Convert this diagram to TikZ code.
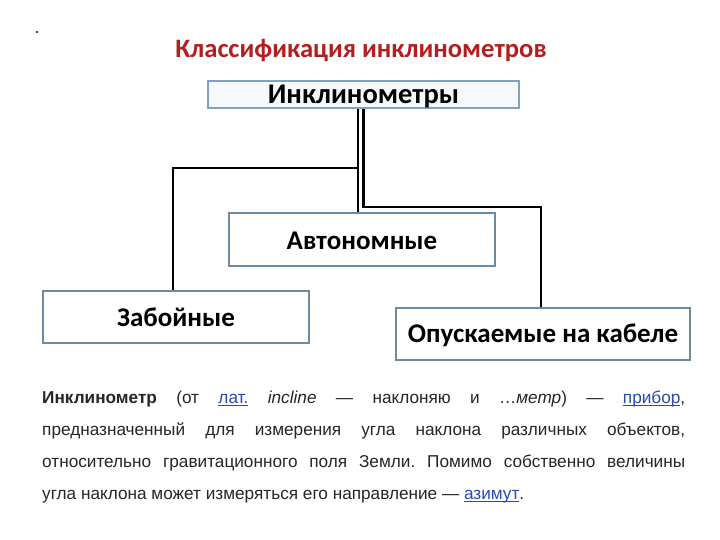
\documentclass[tikz,border=0pt]{standalone}
\usepackage{fontspec}
\setmainfont{Liberation Sans}
\newfontfamily\boxfont{Carlito}
\usetikzlibrary{calc}
\definecolor{titlered}{HTML}{B41E1E}
\definecolor{boxedge}{HTML}{6E8AA2}
\definecolor{topedge}{HTML}{7FA2C4}
\definecolor{topfill}{HTML}{F5F9FC}
\definecolor{linkblue}{HTML}{2A4AB0}
\definecolor{bodytext}{HTML}{262626}
\newcommand\lnkword[1]{\textcolor{linkblue}{\setbox0\hbox{#1}\rlap{\rule[-2.4pt]{\wd0}{0.8pt}}\box0}}
\tikzset{
  catbox/.style={draw=boxedge, line width=1.6pt, fill=white, inner sep=0pt,
    font=\boxfont\bfseries\fontsize{27}{30}\selectfont, text=black},
  conn/.style={draw=black, line width=2.6pt},
}
\begin{document}
\begin{tikzpicture}[x=1pt,y=-1pt]
\useasboundingbox (0,0) rectangle (720,540);
\fill[white] (0,0) rectangle (720,540);
\fill[black!70] (36.3,30.8) rectangle (37.9,32.6);
\node[font=\boxfont\bfseries\fontsize{26.6}{28}\selectfont, text=titlered] (title) at (361,51) {Классификация инклинометров};
\node[draw=topedge, line width=1.4pt, fill=topfill, minimum width=311pt, minimum height=27pt, inner sep=0pt,
  text height=20pt, text depth=2pt,
  font=\boxfont\bfseries\fontsize{28.5}{30}\selectfont] (top) at (363.5,94.5) {Инклинометры};
\node[catbox, minimum width=266pt, minimum height=53pt, text height=21pt, text depth=2pt] (auto) at (362,239.5) {Автономные};
\node[catbox, minimum width=266pt, minimum height=52pt, text height=21pt, text depth=2pt] (zab) at (176,317) {Забойные};
\node[catbox, minimum width=294pt, minimum height=52pt, text height=20pt, text depth=3pt] (cab) at (543,334) {Опускаемые на кабеле};
\coordinate (jl) at (358,168);
\coordinate (cl) at (173,168);
\coordinate (jr) at (363.5,207);
\coordinate (cr) at (541,207);
\draw[conn] (top.south -| jl) -- (auto.north -| jl);
\draw[conn] (jl) -- (cl) -- (zab.north -| cl);
\draw[conn] (top.south -| jr) -- (jr) -- (cr) -- (cab.north -| cr);
\node[anchor=north west, text width=643pt, align=justify, inner sep=0pt, text=bodytext,
  font=\fontsize{17.2}{32}\selectfont\frenchspacing] (para) at (42,390.5)
{\textbf{Инклинометр} (от \lnkword{лат.} \textit{incline} — наклоняю и …\textit{метр}) — \lnkword{прибор},\linebreak
предназначенный для измерения угла наклона различных объектов,\linebreak
относительно гравитационного поля Земли. Помимо собственно величины\linebreak
угла наклона может измеряться его направление — \lnkword{азимут}.};
\end{tikzpicture}
\end{document}
